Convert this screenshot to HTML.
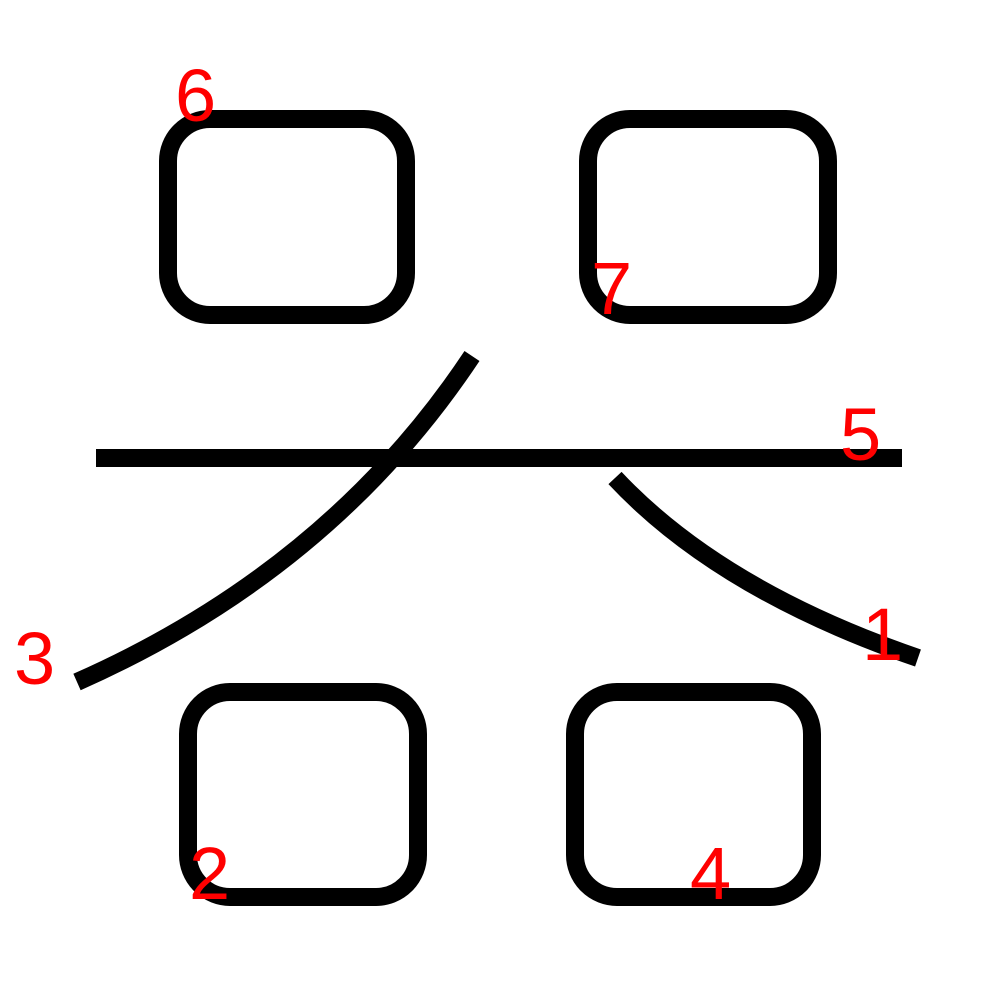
<!DOCTYPE html>
<html><head><meta charset="utf-8"><style>
html,body{margin:0;padding:0;background:#fff;width:1000px;height:1000px;overflow:hidden}
text{font-family:"Liberation Sans",sans-serif;font-size:74px;fill:#ff0000}
</style></head><body>
<svg width="1000" height="1000" viewBox="0 0 1000 1000">
<g fill="none" stroke="#000" stroke-width="18">
<rect x="168" y="119" width="238" height="196" rx="42"/>
<rect x="588" y="119" width="240" height="196" rx="42"/>
<rect x="188" y="692" width="230" height="205" rx="42"/>
<rect x="575" y="692" width="237" height="205" rx="42"/>
<line x1="96" y1="458" x2="902" y2="458"/>
<path d="M472 356 Q330 570 77 682"/>
<path d="M615 478 Q720 590 918 658"/>
</g>
<text x="862" y="660">1</text>
<text x="189" y="899">2</text>
<text x="14" y="684">3</text>
<text x="690" y="899">4</text>
<text x="840" y="460">5</text>
<text x="175" y="121">6</text>
<text x="591" y="314">7</text>
</svg>
</body></html>
